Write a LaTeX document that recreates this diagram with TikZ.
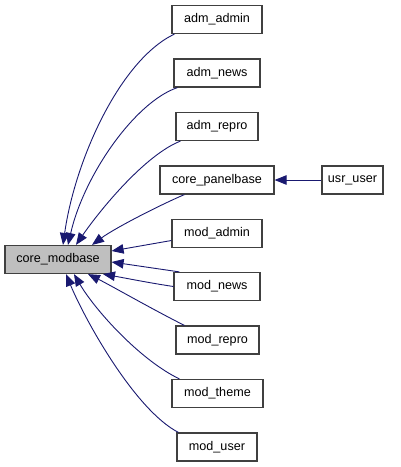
\documentclass[tikz,border=0pt]{standalone}
\usepackage{fontspec}
\setmainfont{Liberation Sans}
\usetikzlibrary{arrows.meta}
\definecolor{edgeblue}{RGB}{25,25,112}
\definecolor{boxline}{RGB}{64,64,64}
\begin{document}
\begin{tikzpicture}[x=1pt,y=-1pt,
  box/.style={draw=boxline,line width=1.2pt,fill=white,minimum height=28pt,inner xsep=0pt,inner ysep=0pt,font=\fontsize{12.6}{15}\selectfont},
  edge/.style={draw=edgeblue,line width=0.9pt,{Triangle[length=12pt,width=9.5pt]}-}]
\useasboundingbox (0,0) rectangle (400,467);
\node[box,fill={rgb,255:red,191;green,191;blue,191},minimum width=106pt] (core) at (58,259.5) {core\_modbase};
\node[box,minimum width=90pt] (aadmin) at (217,19.5) {adm\_admin};
\node[box,minimum width=86pt] (anews) at (217,73) {adm\_news};
\node[box,minimum width=82pt] (arepro) at (217,126.5) {adm\_repro};
\node[box,minimum width=114pt] (panel) at (217,180) {core\_panelbase};
\node[box,minimum width=61pt] (uuser) at (352.5,180) {usr\_user};
\node[box,minimum width=90pt] (madmin) at (217,233.5) {mod\_admin};
\node[box,minimum width=86pt] (mnews) at (217,286.5) {mod\_news};
\node[box,minimum width=83pt] (mrepro) at (217.5,340) {mod\_repro};
\node[box,minimum width=91pt] (mtheme) at (217.5,393.5) {mod\_theme};
\node[box,minimum width=80pt] (muser) at (217,447) {mod\_user};

\draw[edge] (panel.east) -- (uuser.west);

\draw[edge] ([xshift=5pt]core.north) .. controls (75,160) and (120,60) .. ([xshift=3pt]aadmin.south west);
\draw[edge] ([xshift=10pt]core.north) .. controls (84,175) and (135,102) .. ([xshift=4pt]anews.south west);
\draw[edge] ([xshift=18pt]core.north) .. controls (100,210) and (145,155) .. ([xshift=5pt]arepro.south west);
\draw[edge] ([xshift=34pt]core.north) .. controls (115,228) and (160,205) .. ([xshift=25pt]panel.south west);
\draw[edge] ([yshift=8.5pt]core.east) -- ([yshift=-7pt]madmin.west);
\draw[edge] ([yshift=-2.5pt]core.east) -- ([xshift=6pt]mnews.north west);
\draw[edge] ([xshift=45pt]core.south) .. controls (125,278) and (150,283) .. (mnews.west);
\draw[edge] ([xshift=30pt]core.south) .. controls (110,285) and (150,308) .. ([xshift=9pt]mrepro.north west);
\draw[edge] ([xshift=16pt]core.south) .. controls (95,310) and (140,360) .. ([xshift=8pt]mtheme.north west);
\draw[edge] ([xshift=8pt]core.south) .. controls (85,320) and (135,410) .. ([xshift=2pt]muser.north west);
\end{tikzpicture}
\end{document}
